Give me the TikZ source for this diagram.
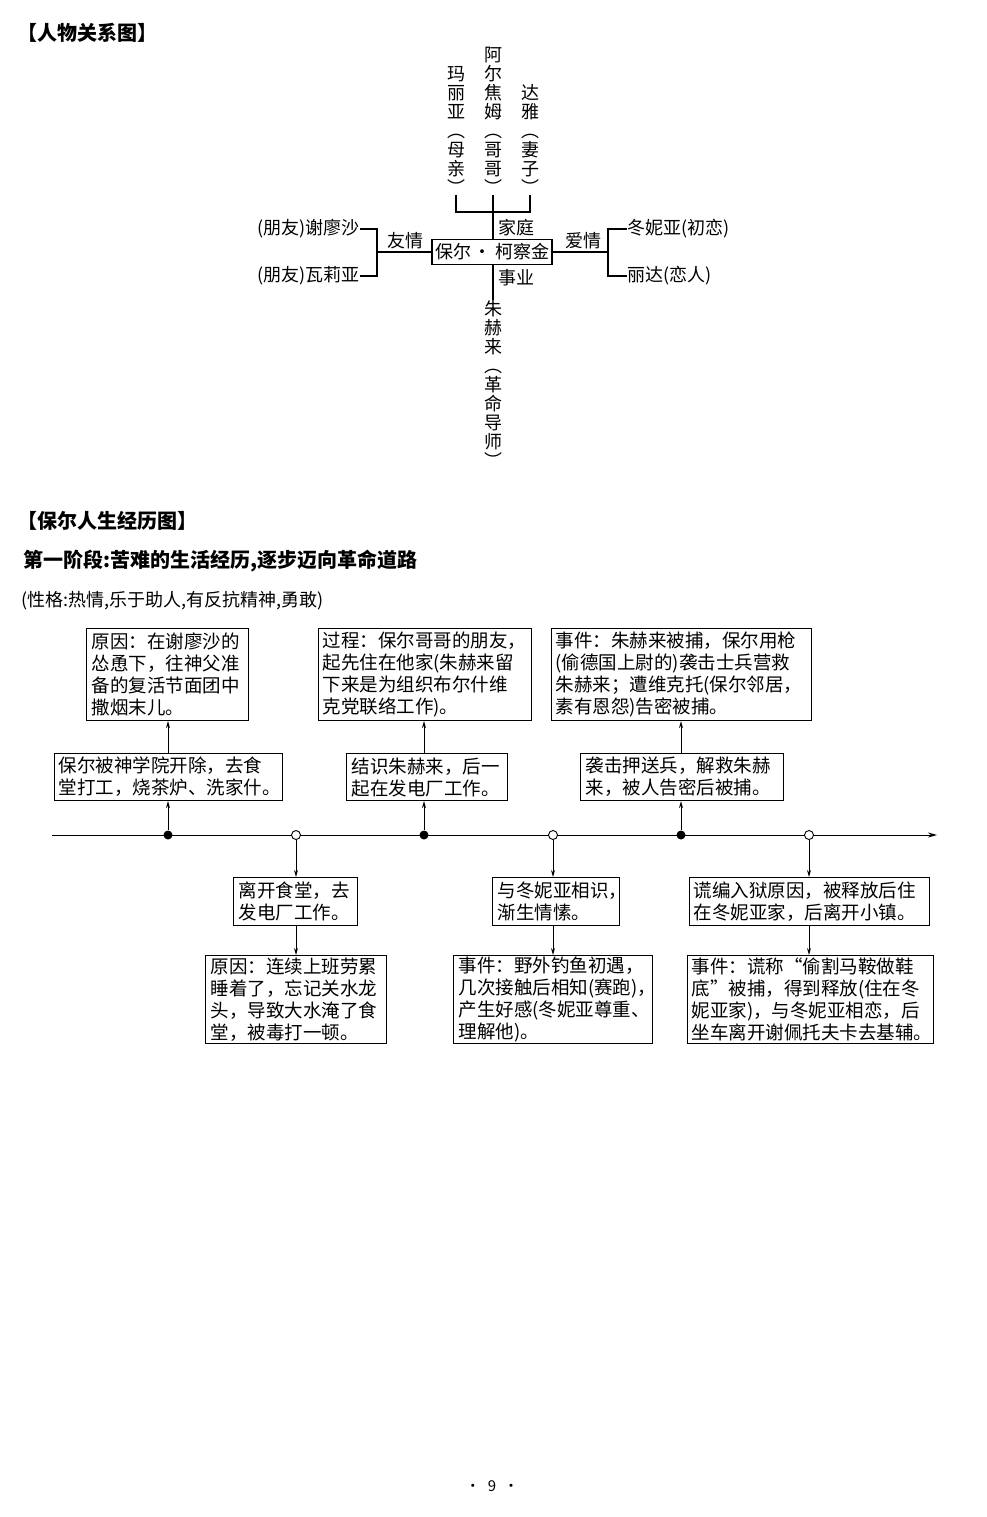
\documentclass[tikz,border=0pt]{standalone}
\usepackage{fontspec}
\setmainfont{Noto Sans CJK SC}
\usetikzlibrary{arrows.meta}
\begin{document}
\begin{tikzpicture}[x=1pt,y=-1pt,line width=1.1pt,
  rel/.style={font=\fontsize{18}{19}\selectfont,inner sep=0pt},
  vt/.style={rel,align=center,text width=19pt},
  box/.style={draw,line width=1.1pt,font=\fontsize{18.5}{22}\selectfont,align=left,inner sep=0pt,anchor=north west},
  arr/.style={-{Stealth[length=7pt,width=4pt]},line width=0.9pt},
  fdot/.style={circle,fill=black,inner sep=0pt,minimum size=9pt},
  odot/.style={circle,draw,fill=white,line width=0.9pt,inner sep=0pt,minimum size=9pt}]
\useasboundingbox (0,0) rectangle (986,1517);
\node[anchor=west,font=\fontsize{20}{22}\selectfont\bfseries] (t1) at (14,33) {【人物关系图】};
% central
\node[draw,rel,minimum width=120pt,minimum height=25pt] (pk) at (492,252) {保尔\,·\,柯察金};
% family
\node[vt,anchor=south] (ma) at (456,195) {玛\\丽\\亚\\︵\\母\\亲\\︶};
\node[vt,anchor=south] (ar) at (493,195) {阿\\尔\\焦\\姆\\︵\\哥\\哥\\︶};
\node[vt,anchor=south] (da) at (530,195) {达\\雅\\︵\\妻\\子\\︶};
\coordinate (bl) at (456,212); \coordinate (br) at (530,212); \coordinate (bm) at (493,212);
\draw (ma.south) -- (bl) -- (br) -- (da.south);
\draw (ar.south) -- (pk.north -| ar.south);
\node[rel] (jt) at (516,228) {家庭};
% career
\node[vt,anchor=north] (zh) at (493,300) {朱\\赫\\来\\︵\\革\\命\\导\\师\\︶};
\draw (pk.south -| zh.north) -- (zh.north);
\node[rel] (sy) at (516,278) {事业};
% friends
\node[rel,anchor=east] (xl) at (360,229) {(朋友)谢廖沙};
\node[rel,anchor=east] (wl) at (360,276) {(朋友)瓦莉亚};
\coordinate (lb) at (377,252);
\draw (pk.west) -- (lb);
\draw (xl.east) -- (377,229) -- (377,276) -- (wl.east);
\node[rel] (yq) at (405,241) {友情};
% love
\node[rel,anchor=west] (dn) at (627,229) {冬妮亚(初恋)};
\node[rel,anchor=west] (ld) at (627,276) {丽达(恋人)};
\coordinate (rb) at (608,252);
\draw (pk.east) -- (rb);
\draw (dn.west) -- (608,229) -- (608,276) -- (ld.west);
\node[rel] (aq) at (583,241) {爱情};
% section 2
\node[anchor=west,font=\fontsize{20}{22}\selectfont\bfseries] (t2) at (14,521) {【保尔人生经历图】};
\node[anchor=west,font=\fontsize{20}{22}\selectfont\bfseries] (t3) at (20,561) {第一阶段:苦难的生活经历,逐步迈向革命道路};
\node[anchor=west,font=\fontsize{18}{20}\selectfont] (t4) at (18,601) {(性格:热情,乐于助人,有反抗精神,勇敢)};
% timeline
\coordinate (ls) at (52,835); \coordinate (le) at (937,835);
\draw[-{Stealth[length=9pt,width=5pt]},line width=0.9pt] (ls) -- (le);
\node[fdot] (p1) at (168,835) {};
\node[odot] (p2) at (296,835) {};
\node[fdot] (p3) at (424,835) {};
\node[odot] (p4) at (553,835) {};
\node[fdot] (p5) at (681,835) {};
\node[odot] (p6) at (809,835) {};
% boxes
\node[box,text width=152pt,minimum height=92pt,inner xsep=5pt] (a1) at (86,628) {原因：在谢廖沙的\\怂恿下，往神父准\\备的复活节面团中\\撒烟末儿。};
\node[box,text width=220pt,minimum height=47pt,inner xsep=4pt] (a2) at (54,753) {保尔被神学院开除，去食\\堂打工，烧茶炉、洗家什。};
\node[box,text width=205pt,minimum height=92pt,inner xsep=4pt] (b1) at (318,628) {过程：保尔哥哥的朋友，\\起先住在他家(朱赫来留\\下来是为组织布尔什维\\克党联络工作)。};
\node[box,text width=151pt,minimum height=47pt,inner xsep=5pt] (b2) at (346,753) {结识朱赫来，后一\\起在发电厂工作。};
\node[box,text width=252pt,minimum height=92pt,inner xsep=4pt] (c1) at (551,628) {事件：朱赫来被捕，保尔用枪\\(偷德国上尉的)袭击士兵营救\\朱赫来；遭维克托(保尔邻居，\\素有恩怨)告密被捕。};
\node[box,text width=193pt,minimum height=47pt,inner xsep=5pt] (c2) at (580,753) {袭击押送兵，解救朱赫\\来，被人告密后被捕。};
\node[box,text width=114pt,minimum height=48pt,inner xsep=5pt] (d1) at (233,877) {离开食堂，去\\发电厂工作。};
\node[box,text width=171pt,minimum height=88pt,inner xsep=5pt] (d2) at (205,955) {原因：连续上班劳累\\睡着了，忘记关水龙\\头，导致大水淹了食\\堂，被毒打一顿。};
\node[box,text width=117pt,minimum height=48pt,inner xsep=5pt] (e1) at (492,877) {与冬妮亚相识，\\渐生情愫。};
\node[box,text width=189pt,minimum height=88pt,inner xsep=5pt] (e2) at (453,955) {事件：野外钓鱼初遇，\\几次接触后相知(赛跑)，\\产生好感(冬妮亚尊重、\\理解他)。};
\node[box,text width=232pt,minimum height=48pt,inner xsep=4pt] (f1) at (689,877) {谎编入狱原因，被释放后住\\在冬妮亚家，后离开小镇。};
\node[box,text width=238pt,minimum height=88pt,inner xsep=4pt] (f2) at (687,955) {事件：谎称“偷割马鞍做鞋\\底”被捕，得到释放(住在冬\\妮亚家)，与冬妮亚相恋，后\\坐车离开谢佩托夫卡去基辅。};
% arrows
\draw[arr] (p1) -- (p1 |- a2.south);
\draw[arr] (a2.north -| p1) -- (a1.south -| p1);
\draw[arr] (p3) -- (p3 |- b2.south);
\draw[arr] (b2.north -| p3) -- (b1.south -| p3);
\draw[arr] (p5) -- (p5 |- c2.south);
\draw[arr] (c2.north -| p5) -- (c1.south -| p5);
\draw[arr] (p2) -- (p2 |- d1.north);
\draw[arr] (d1.south -| p2) -- (d2.north -| p2);
\draw[arr] (p4) -- (p4 |- e1.north);
\draw[arr] (e1.south -| p4) -- (e2.north -| p4);
\draw[arr] (p6) -- (p6 |- f1.north);
\draw[arr] (f1.south -| p6) -- (f2.north -| p6);
\node[font=\fontsize{15}{16}\selectfont] (pg) at (492,1486) {•\enspace 9\enspace •};
\end{tikzpicture}
\end{document}
